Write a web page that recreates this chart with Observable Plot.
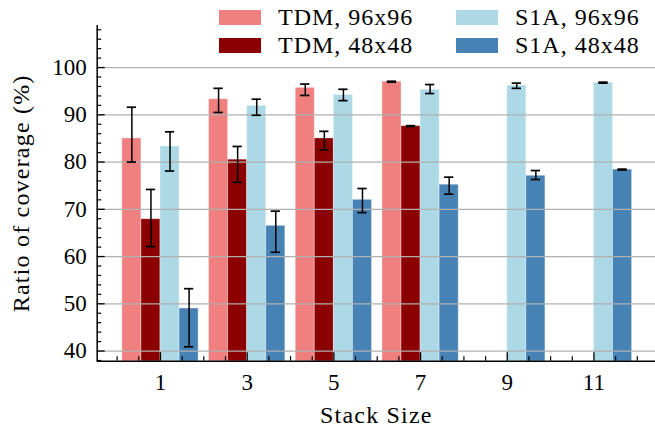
<!DOCTYPE html>
<html><head><meta charset="utf-8">
<script src="https://cdn.jsdelivr.net/npm/d3@7"></script>
<script src="https://cdn.jsdelivr.net/npm/@observablehq/plot@0.6"></script>
<style>
body{margin:0;background:#fff;}
#wrap{position:relative;width:655px;height:428px;font-family:"Liberation Serif",serif;color:#000;}
.patch{position:absolute;width:42px;height:15px;}
.ltxt{position:absolute;font-size:24px;line-height:24px;white-space:nowrap;letter-spacing:1px;}
</style></head>
<body><div id="wrap"></div>
<script>
const stackSizes = [1, 3, 5, 7, 9, 11];
const seriesNames = ["TDM, 96x96", "TDM, 48x48", "S1A, 96x96", "S1A, 48x48"];
const seriesColors = ["#f08080", "#8b0000", "#add8e6", "#4682b4"];

const tdm96   = [85.0, 93.3, 95.7, 97.0, null, null];
const tdm96Lo = [80.0, 90.5, 94.1, 96.9, null, null];
const tdm96Hi = [91.6, 95.6, 96.5, 97.1, null, null];

const tdm48   = [67.9, 80.5, 85.0, 87.6, null, null];
const tdm48Lo = [62.1, 75.7, 82.6, 87.5, null, null];
const tdm48Hi = [74.2, 83.3, 86.5, 87.7, null, null];

const s1a96   = [83.3, 91.9, 94.2, 95.3, 96.2, 96.8];
const s1a96Lo = [78.1, 89.9, 93.0, 94.5, 95.6, 96.7];
const s1a96Hi = [86.4, 93.3, 95.4, 96.4, 96.7, 96.9];

const s1a48   = [49.0, 66.5, 72.0, 75.2, 77.1, 78.4];
const s1a48Lo = [40.9, 60.9, 69.3, 73.2, 76.3, 78.3];
const s1a48Hi = [53.2, 69.6, 74.4, 76.8, 78.2, 78.5];

const xTicks = [1, 3, 5, 7, 9, 11];
const yTicks = [40, 50, 60, 70, 80, 90, 100];
const xLabel = "Stack Size";
const yLabel = "Ratio of coverage (%)";

const values = [tdm96, tdm48, s1a96, s1a48];
const lows = [tdm96Lo, tdm48Lo, s1a96Lo, s1a48Lo];
const highs = [tdm96Hi, tdm48Hi, s1a96Hi, s1a48Hi];

const barW = 0.44;
const capHalf = 0.107;
const xDomain = [-0.46, 12.42];
const yDomain = [37.85, 108.9];
const serif = "Liberation Serif";

const rows = [];
seriesNames.forEach((name, si) => {
  stackSizes.forEach((s, i) => {
    const v = values[si][i];
    if (v == null) return;
    rows.push({series: name, x: s + (si - 1.5) * barW, value: v, lo: lows[si][i], hi: highs[si][i]});
  });
});

const xMinor = d3.range(0, 12.01, 0.5).filter(v => !xTicks.includes(v));
const yMinor = d3.range(38, 109, 2).filter(v => !yTicks.includes(v));

const chart = Plot.plot({
  width: 655, height: 428,
  marginLeft: 96.7, marginRight: 0, marginTop: 25, marginBottom: 67.3,
  x: {domain: xDomain},
  y: {domain: yDomain},
  color: {domain: seriesNames, range: seriesColors},
  style: {fontFamily: serif, fontSize: "23px", color: "black", background: "white", overflow: "visible"},
  marks: [
    Plot.rect(rows, {x1: d => d.x - barW / 2, x2: d => d.x + barW / 2, y1: 0, y2: "value", fill: "series", stroke: "white", strokeOpacity: 0.35, strokeWidth: 1, clip: true}),
    Plot.ruleY(yTicks, {stroke: "#b0b0b0", strokeWidth: 1.3}),
    Plot.ruleX(rows, {x: "x", y1: "lo", y2: "hi", stroke: "black", strokeWidth: 1.5}),
    Plot.ruleY(rows, {y: "hi", x1: d => d.x - capHalf, x2: d => d.x + capHalf, stroke: "black", strokeWidth: 1.7}),
    Plot.ruleY(rows, {y: "lo", x1: d => d.x - capHalf, x2: d => d.x + capHalf, stroke: "black", strokeWidth: 1.7}),
    Plot.ruleX([xDomain[0]], {stroke: "black", strokeWidth: 1.5}),
    Plot.ruleY([yDomain[0]], {stroke: "black", strokeWidth: 1.5}),
    Plot.axisY({ticks: yTicks, tickSize: 0, tickPadding: 10.5, label: null, tickFormat: d => String(d)}),
    Plot.axisY({ticks: yTicks, tickSize: -8, text: null, label: null, strokeWidth: 1.3}),
    Plot.axisY({ticks: yMinor, tickSize: -4.5, text: null, label: null, strokeWidth: 1.2}),
    Plot.axisX({ticks: xTicks, tickSize: 0, tickPadding: 12, label: null, tickFormat: d => String(d)}),
    Plot.axisX({ticks: xTicks, tickSize: -8.5, text: null, label: null, strokeWidth: 1.3}),
    Plot.axisX({ticks: xMinor, tickSize: -4.5, text: null, label: null, strokeWidth: 1.2}),
    Plot.text([yLabel], {frameAnchor: "left", rotate: -90, dx: -76, textAnchor: "middle", lineAnchor: "middle", fontSize: 24, text: d => d, className: "lbl"}),
    Plot.text([xLabel], {frameAnchor: "bottom", dy: 54, textAnchor: "middle", lineAnchor: "middle", fontSize: 24, text: d => d, className: "lbl"})
  ]
});

const wrap = document.getElementById("wrap");
wrap.appendChild(chart);
chart.querySelectorAll(".lbl text").forEach(t => t.style.letterSpacing = "1.2px");

// legend (HTML overlay)
const legPos = [[219, 10], [219, 38], [456, 10], [456, 38]];
seriesNames.forEach((name, i) => {
  const [lx, ly] = legPos[i];
  const p = document.createElement("div");
  p.className = "patch";
  p.style.left = lx + "px"; p.style.top = ly + "px"; p.style.background = seriesColors[i];
  wrap.appendChild(p);
  const t = document.createElement("div");
  t.className = "ltxt";
  t.style.left = (lx + 59) + "px"; t.style.top = (ly - 5) + "px";
  t.textContent = name;
  wrap.appendChild(t);
});
</script>
</body></html>
